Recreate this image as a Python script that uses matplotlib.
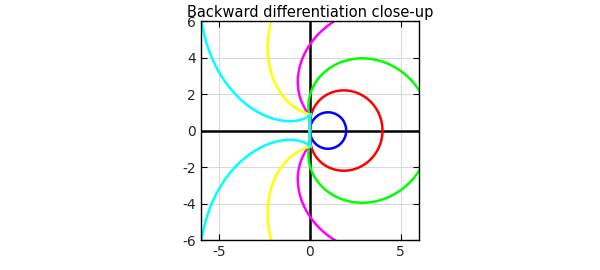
import numpy as np
import matplotlib.pyplot as plt

plt.rcParams['axes.unicode_minus'] = False

# BDF orders and their boundary colours
orders = [1, 2, 3, 4, 5, 6]
colors = ['#0000ff', '#ff0000', '#00ff00', '#ff00ff', '#ffff00', '#00ffff']
xticks = [-5, 0, 5]
yticks = [-6, -4, -2, 0, 2, 4, 6]

fig = plt.figure(figsize=(6, 2.7), dpi=100)
ax = fig.add_axes([0.335, 0.111, 0.363, 0.811])

# stability region boundary: z = sum_j (1/j) (1 - 1/w)^j, w on unit circle
w = np.exp(1j * np.linspace(0, 2 * np.pi, 800))
r = 1 - 1 / w
for k, c in zip(orders, colors):
    z = sum(r ** j / j for j in range(1, k + 1))
    ax.plot(z.real, z.imag, color=c, lw=1.8)

ax.axhline(0, color='black', lw=1.8, zorder=1)
ax.axvline(0, color='black', lw=1.8, zorder=1)
ax.set_xlim(-6, 6)
ax.set_ylim(-6, 6)
ax.set_xticks(xticks)
ax.set_yticks(yticks)
ax.grid(True, color='#d9d9d9', lw=0.8)
ax.set_axisbelow(True)
ax.tick_params(direction='in', top=True, right=True, labelsize=10,
               length=4, labelcolor='#262626')
ax.set_title('Backward differentiation close-up', fontsize=10.5, pad=3)
for s in ax.spines.values():
    s.set_linewidth(1.0)

plt.savefig('out.png', dpi=100)
